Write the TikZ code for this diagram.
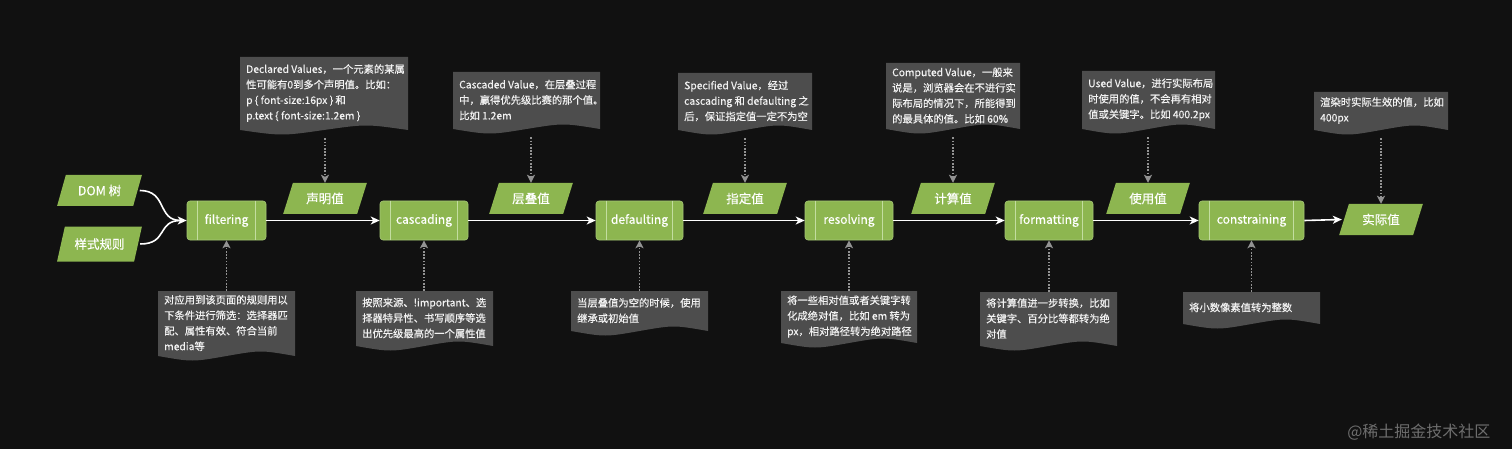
\documentclass[tikz,border=0pt]{standalone}
\usepackage{fontspec}
\setmainfont{Noto Sans CJK SC}
\newfontfamily\notefont{Noto Sans CJK SC}[FakeBold=0.3]
\usetikzlibrary{shapes.geometric,arrows.meta}
\definecolor{bgc}{HTML}{111111}
\definecolor{leaf}{HTML}{8DB650}
\definecolor{leafline}{HTML}{A6C976}
\definecolor{leafinner}{HTML}{C3DDA0}
\definecolor{notec}{HTML}{4D4D4D}
\definecolor{notetxt}{HTML}{F2F2F2}
\definecolor{pointer}{HTML}{939393}
\definecolor{markc}{HTML}{6E6E6E}
\tikzset{
  procbox/.style={rectangle, rounded corners=3pt, fill=leaf, draw=leafline, line width=0.6pt,
    minimum height=39pt, inner sep=0pt, text=white, font=\notefont\fontsize{12}{14}\selectfont},
  databox/.style={trapezium, trapezium left angle=64, trapezium right angle=116,
    trapezium stretches=true, fill=leaf, inner sep=0pt, text=white,
    font=\notefont\fontsize{12.5}{14}\selectfont},
  noteframe/.style={rectangle, inner sep=0pt, draw=none},
  notetext/.style={inner sep=0pt, text=notetxt, align=left, font=\notefont\fontsize{10.3}{15.5}\selectfont},
  flow/.style={draw=white, line width=1.6pt, -{Stealth[length=9pt,width=8pt,inset=2.5pt]}},
  feed/.style={draw=white, line width=1.6pt},
  pointerarrow/.style={draw=pointer, line width=1.8pt, dash pattern=on 1.6pt off 1.6pt,
    -{Stealth[length=8pt,width=8pt,inset=2pt,sep=0pt]}},
  innerline/.style={draw=leafinner, line width=0.6pt},
}
% #1 name, #2 left x, #3 top y, #4 width, #5 height, #6 text
\newcommand\notebox[6]{%
  \node[noteframe, anchor=north west, minimum width=#4pt, minimum height=#5pt] (#1) at (#2,#3) {};
  \fill[notec] (#2,#3) -- ({#2+#4},#3) -- ({#2+#4},{#3+#5-3})
     .. controls ({#2+0.75*#4},{#3+#5-9}) .. ({#2+0.5*#4},{#3+#5-3})
     .. controls ({#2+0.25*#4},{#3+#5+3}) .. (#2,{#3+#5-3}) -- cycle;
  \node[notetext, anchor=west] (#1t) at ({#2+6},{#3+0.5*#5-2}) {#6};
}
\newcommand\procnode[4]{% name, center x, width, label
  \node[procbox, minimum width=#3pt] (#1) at (#2,220.5) {#4};
  \draw[innerline] ([xshift=11pt]#1.north west) -- ([xshift=11pt]#1.south west);
  \draw[innerline] ([xshift=-11pt]#1.north east) -- ([xshift=-11pt]#1.south east);
}
\begin{document}
\begin{tikzpicture}[x=1pt,y=-1pt]
\fill[bgc] (0,0) rectangle (1512,449);
\useasboundingbox (0,0) rectangle (1512,449);

% inputs
\node[databox, minimum width=85pt, minimum height=31pt] (dom) at (99.5,190.5) {DOM 树};
\node[databox, minimum width=85pt, minimum height=35pt] (css) at (99.5,244) {样式规则};

% processes
\procnode{filter}{226.5}{79}{filtering}
\procnode{cascade}{424}{88}{cascading}
\procnode{default}{639.5}{87}{defaulting}
\procnode{resolve}{849}{88}{resolving}
\procnode{format}{1049}{88}{formatting}
\procnode{constrain}{1251.5}{105}{constraining}

% values
\node[databox, minimum width=84pt, minimum height=31pt] (v1) at (325,198.5) {声明值};
\node[databox, minimum width=84pt, minimum height=31pt] (v2) at (531,198.5) {层叠值};
\node[databox, minimum width=84pt, minimum height=31pt] (v3) at (745,198.5) {指定值};
\node[databox, minimum width=84pt, minimum height=31pt] (v4) at (953,198.5) {计算值};
\node[databox, minimum width=84pt, minimum height=31pt] (v5) at (1148,198.5) {使用值};
\node[databox, minimum width=84pt, minimum height=31pt] (v6) at (1381,219.5) {实际值};

% feed curves
\draw[feed] ([xshift=2pt]dom.east) .. controls ([xshift=30pt]dom.east) and ([xshift=-30pt]filter.west) .. ([xshift=-6pt]filter.west);
\draw[feed] ([xshift=2pt]css.east) .. controls ([xshift=30pt]css.east) and ([xshift=-30pt]filter.west) .. ([xshift=-6pt]filter.west);
\draw[flow] ([xshift=-7pt]filter.west) -- (filter.west);

% main flow
\draw[flow] (filter) -- (cascade);
\draw[flow] (cascade) -- (default);
\draw[flow] (default) -- (resolve);
\draw[flow] (resolve) -- (format);
\draw[flow] (format) -- (constrain);
\draw[flow] (constrain.east) -- ([xshift=-2pt]v6.west);

% top notes
\notebox{t1}{240}{57}{168}{76}{Declared Values，一个元素的某属\\性可能有0到多个声明值。比如：\\p \{ font-size:16px \} 和\\p.text \{ font-size:1.2em \}}
\notebox{t2}{453}{72}{147}{60}{Cascaded Value，在层叠过程\\中，赢得优先级比赛的那个值。\\比如 1.2em}
\notebox{t3}{678}{73}{134}{60}{Specified Value，经过\\cascading 和 defaulting 之\\后，保证指定值一定不为空}
\notebox{t4}{886}{63}{134}{69}{Computed Value，一般来\\说是，浏览器会在不进行实\\际布局的情况下，所能得到\\的最具体的值。比如 60\%}
\notebox{t5}{1082}{71}{133}{61}{Used Value，进行实际布局\\时使用的值，不会再有相对\\值或关键字。比如 400.2px}
\notebox{t6}{1314}{92}{134}{41}{渲染时实际生效的值，比如\\400px}

% bottom notes
\notebox{b1}{158}{291}{137}{68}{对应用到该页面的规则用以\\下条件进行筛选：选择器匹\\配、属性有效、符合当前\\media等}
\notebox{b2}{356}{291}{137}{58}{按照来源、!important、选\\择器特异性、书写顺序等选\\出优先级最高的一个属性值}
\notebox{b3}{571}{291}{137}{43}{当层叠值为空的时候，使用\\继承或初始值}
\notebox{b4}{781}{291}{136}{55}{将一些相对值或者关键字转\\化成绝对值，比如 em 转为\\px，相对路径转为绝对路径}
\notebox{b5}{980}{292}{137}{57}{将计算值进一步转换，比如\\关键字、百分比等都转为绝\\对值}
\notebox{b6}{1183}{292}{137}{35}{将小数像素值转为整数}

% pointers
\draw[pointerarrow] ([yshift=-5pt]t1.south -| v1.north) -- (v1.north);
\draw[pointerarrow] ([yshift=-5pt]t2.south -| v2.north) -- (v2.north);
\draw[pointerarrow] ([yshift=-5pt]t3.south -| v3.north) -- (v3.north);
\draw[pointerarrow] ([yshift=-5pt]t4.south -| v4.north) -- (v4.north);
\draw[pointerarrow] ([yshift=-5pt]t5.south -| v5.north) -- (v5.north);
\draw[pointerarrow] ([yshift=-5pt]t6.south -| v6.north) -- (v6.north);
\draw[pointerarrow] (b1.north -| filter.south) -- (filter.south);
\draw[pointerarrow] (b2.north -| cascade.south) -- (cascade.south);
\draw[pointerarrow] (b3.north -| default.south) -- (default.south);
\draw[pointerarrow] (b4.north -| resolve.south) -- (resolve.south);
\draw[pointerarrow] (b5.north -| format.south) -- (format.south);
\draw[pointerarrow] (b6.north -| constrain.south) -- (constrain.south);

% watermark
\node[text=markc, font=\fontsize{16}{18}\selectfont, anchor=east] (mark) at (1494,432) {@稀土掘金技术社区};
\end{tikzpicture}
\end{document}
